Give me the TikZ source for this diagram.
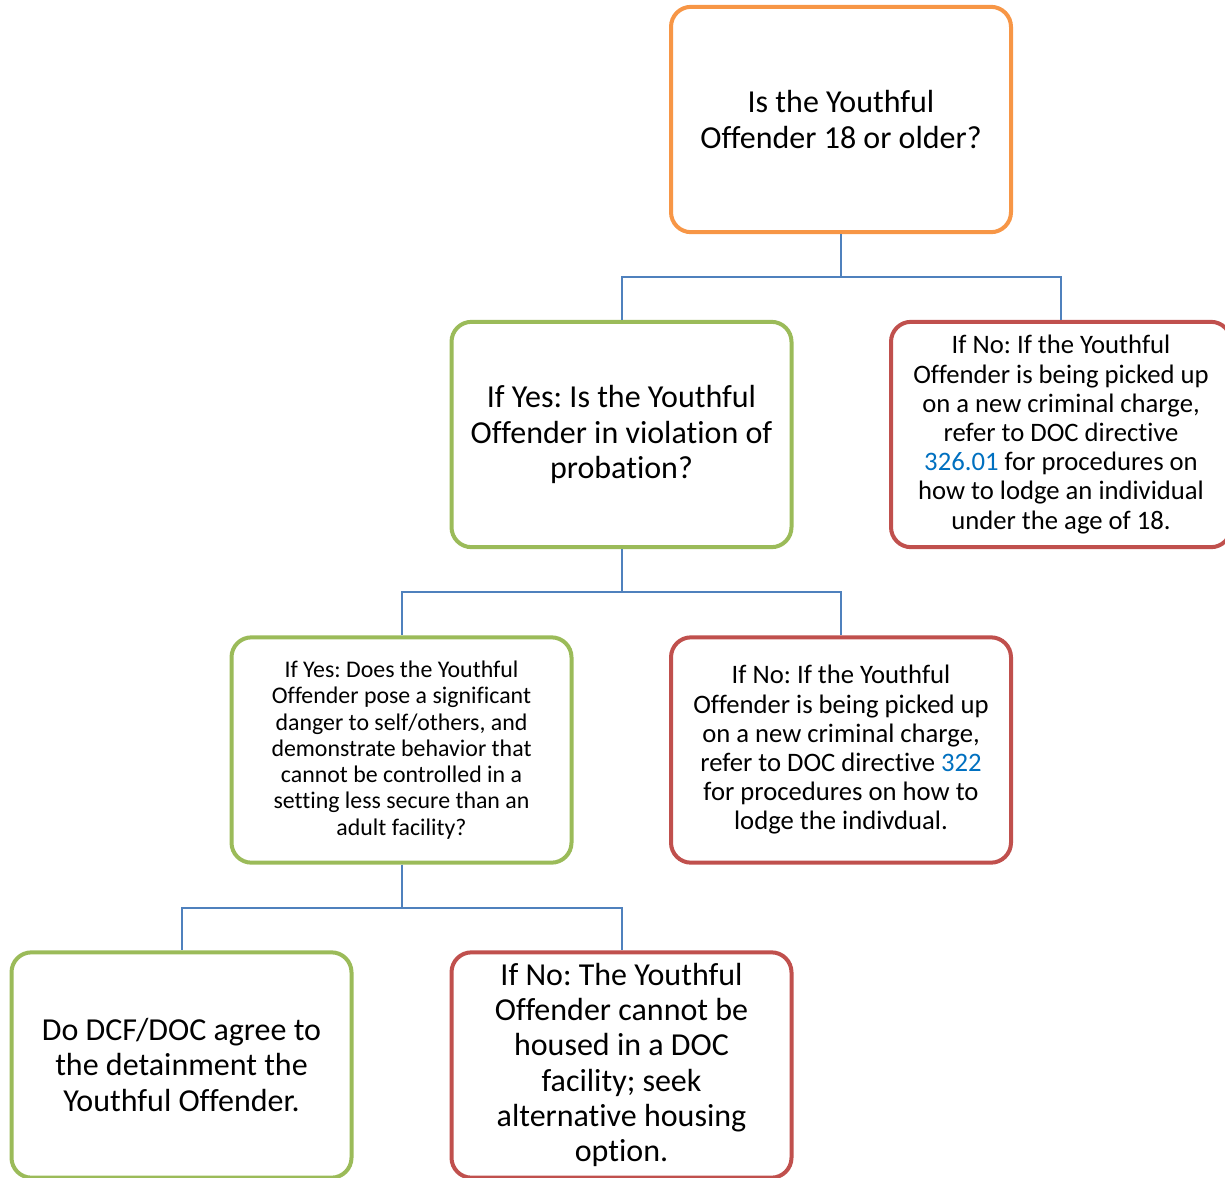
\documentclass[tikz,border=0pt]{standalone}
\usepackage{fontspec}
\setmainfont{Carlito}[Ligatures=NoCommon]
\usetikzlibrary{calc}
\definecolor{boxorange}{HTML}{F79646}
\definecolor{boxgreen}{HTML}{9BBB59}
\definecolor{boxred}{HTML}{C0504D}
\definecolor{connblue}{HTML}{4F81BD}
\definecolor{linkblue}{HTML}{0070C0}
\newcommand{\bigtext}{\fontsize{24}{26.4}\selectfont}
\newcommand{\midtext}{\fontsize{20}{21.9}\selectfont}
\newcommand{\smalltext}{\fontsize{17.9}{19.7}\selectfont}
\frenchspacing

\begin{document}
\begin{tikzpicture}[x=0.75pt, y=-0.75pt,
    box/.style={draw, line width=3pt, rounded corners=15pt, fill=white,
      minimum width=255pt, minimum height=169pt, align=center, inner sep=0pt},
    startbox/.style={box, draw=boxorange, font=\bigtext},
    yesbox/.style={box, draw=boxgreen},
    nobox/.style={box, draw=boxred},
    conn/.style={draw=connblue, line width=1.5pt}]
%      \draw [help lines] (0,0) grid[step=100] (1225,1178);
      \useasboundingbox (0,0) rectangle (1225,1178);
      \node [startbox] (top) at (841,119.5) {Is the Youthful\\ Offender 18 or older?};

      \node [yesbox, font=\bigtext] (yes1) at (621.5,434.5) {If Yes: Is the Youthful\\ Offender in violation of\\ probation?};
      \node [nobox, font=\midtext] (no1) at (1061,434.5) {If No: If the Youthful\\ Offender is being picked up\\
        on a new criminal charge,\\ refer to DOC directive\\ \textcolor{linkblue}{326.01} for procedures on\\
        how to lodge an individual\\ under the age of 18.};

      \node [yesbox, font=\smalltext] (yes2) at (401.5,750) {If Yes: Does the Youthful\\ Offender pose a significant\\
        danger to self/others, and\\ demonstrate behavior that\\ cannot be controlled in a\\
        setting less secure than an\\ adult facility?};
      \node [nobox, font=\midtext] (no2) at (841,750) {If No: If the Youthful\\ Offender is being picked up\\
        on a new criminal charge,\\ refer to DOC directive \textcolor{linkblue}{322}\\ for procedures on how to\\
        lodge the indivdual.};

      \node [yesbox, font=\bigtext] (yes3) at (181.5,1065) {Do DCF/DOC agree to\\ the detainment the\\ Youthful Offender.};
      \node [nobox, font=\bigtext] (no3) at (621.5,1065) {If No: The Youthful\\ Offender cannot be\\ housed in a DOC\\
        facility; seek\\ alternative housing\\ option.};

      % connectors
      \draw [conn] (top.south) -- ++(0,43) -| (yes1.north);
      \draw [conn] (top.south) -- ++(0,43) -| (no1.north);
      \draw [conn] (yes1.south) -- ++(0,43) -| (yes2.north);
      \draw [conn] (yes1.south) -- ++(0,43) -| (no2.north);
      \draw [conn] (yes2.south) -- ++(0,43) -| (yes3.north);
      \draw [conn] (yes2.south) -- ++(0,43) -| (no3.north);
\end{tikzpicture}
\end{document}
